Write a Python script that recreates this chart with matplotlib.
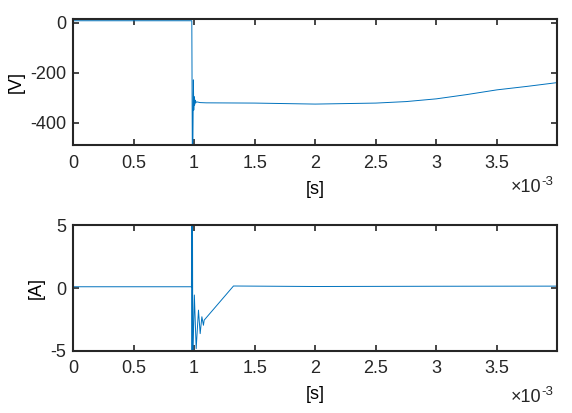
import matplotlib
matplotlib.use("Agg")
import matplotlib.pyplot as plt
from matplotlib.ticker import FuncFormatter

# time in seconds
t_volt = [0.0, 0.981e-3, 0.985e-3, 0.990e-3, 0.994e-3, 0.997e-3, 1.000e-3, 1.004e-3,
          1.008e-3, 1.012e-3, 1.020e-3, 1.050e-3, 1.100e-3, 1.500e-3, 2.000e-3,
          2.500e-3, 2.750e-3, 3.000e-3, 3.250e-3, 3.500e-3, 3.750e-3, 3.996e-3]
volt = [8, 8, -500, -470, -229, -350, -296, -330,
        -310, -322, -317, -320, -321, -322, -326,
        -322, -316, -305, -288, -269, -255, -240]

t_curr = [0.0, 0.978e-3, 0.980e-3, 0.983e-3, 0.986e-3, 0.989e-3, 1.002e-3, 1.017e-3,
          1.036e-3, 1.050e-3, 1.064e-3, 1.077e-3, 1.083e-3, 1.325e-3, 2.000e-3,
          3.000e-3, 3.996e-3]
curr = [0.1, 0.1, 8, -8, 8, -6, -0.56, -4.85,
        -1.77, -3.65, -2.3, -2.98, -2.57, 0.16, 0.12,
        0.14, 0.15]

x_ticks = [0, 0.5e-3, 1e-3, 1.5e-3, 2e-3, 2.5e-3, 3e-3, 3.5e-3]
v_ticks = [-400, -200, 0]
a_ticks = [-5, 0, 5]

LINE_COLOR = "#0072BD"
AX_COLOR = "#262626"
FS = 13

plt.rcParams["font.family"] = ["Liberation Sans", "DejaVu Sans"]
plt.rcParams["axes.unicode_minus"] = False

fig = plt.figure(figsize=(5.72, 4.13), dpi=100)
ax1 = fig.add_axes([0.1276, 0.6477, 0.8462, 0.3063])
ax2 = fig.add_axes([0.1276, 0.1513, 0.8462, 0.3027])

ax1.plot(t_volt, volt, color=LINE_COLOR, linewidth=0.7)
ax2.plot(t_curr, curr, color=LINE_COLOR, linewidth=0.7)

ax1.set_ylim(-492, 15)
ax1.set_yticks(v_ticks)
ax1.set_ylabel("[V]", fontsize=FS)
ax2.set_ylim(-5, 5)
ax2.set_yticks(a_ticks)
ax2.set_ylabel("[A]", fontsize=FS)

fmt = FuncFormatter(lambda v, pos: f"{v * 1e3:g}")
for ax in (ax1, ax2):
    ax.set_xlim(0, 3.996e-3)
    ax.set_xticks(x_ticks)
    ax.xaxis.set_major_formatter(fmt)
    ax.set_xlabel("[s]", fontsize=FS, labelpad=6)
    ax.tick_params(direction="in", top=True, right=True, length=4, width=1.2,
                   labelsize=FS, colors=AX_COLOR)
    ax.tick_params(axis="x", pad=7)
    ax.tick_params(axis="y", pad=5)
    for s in ax.spines.values():
        s.set_linewidth(1.5)
        s.set_color(AX_COLOR)

# exponent labels below each axis, bottom-right (baseline in figure pixels)
for base_px in (192, 402):
    yb = 1 - base_px / 413
    fig.text(541 / 572, yb, "\u00d710", ha="right", va="baseline",
             fontsize=FS, color=AX_COLOR)
    fig.text(541.5 / 572, yb + 7 / 413, "-3", ha="left", va="baseline",
             fontsize=9.5, color=AX_COLOR)

fig.savefig("out.png", dpi=100)
